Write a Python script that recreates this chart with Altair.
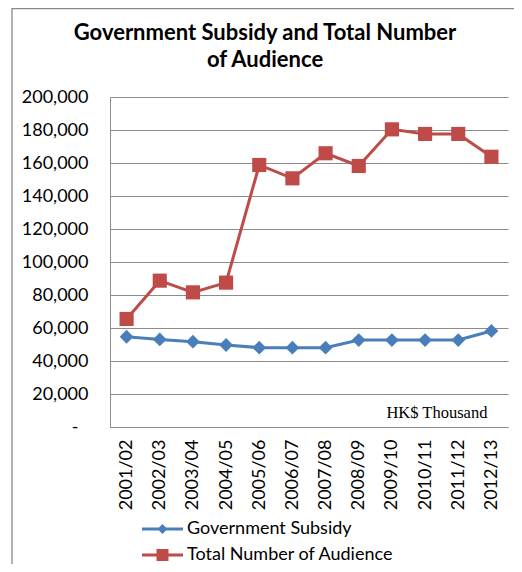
import altair as alt
import pandas as pd

years = ["2001/02", "2002/03", "2003/04", "2004/05", "2005/06", "2006/07",
         "2007/08", "2008/09", "2009/10", "2010/11", "2011/12", "2012/13"]
subsidy = [54700, 53100, 51700, 49700, 48100, 48100, 48100, 52700, 52700, 52700, 52700, 58200]
audience = [65500, 88700, 81600, 87500, 158800, 150700, 165900, 158200, 180400, 177600, 177600, 163800]
series = ["Government Subsidy", "Total Number of Audience"]
line_colors = ["#4A7EBB", "#BE4B48"]
y_ticks = [0, 20000, 40000, 60000, 80000, 100000, 120000, 140000, 160000, 180000, 200000]
title_text = "Government Subsidy and Total Number\nof Audience"
note_text = "HK$ Thousand"

rows = []
for yr, v in zip(years, subsidy):
    rows.append({"year": yr, "series": series[0], "value": v})
for yr, v in zip(years, audience):
    rows.append({"year": yr, "series": series[1], "value": v})
df = pd.DataFrame(rows)

FONT = "Lato"
GRID = "#8c8c8c"

x_axis = alt.Axis(labelAngle=-90, ticks=False, domainColor=GRID, labelPadding=12,
                  labelFont=FONT, labelFontSize=18, labelColor="#000000",
                  title=None, grid=False, labelOverlap=False)
y_axis = alt.Axis(values=y_ticks, grid=True, gridColor=GRID, domainColor=GRID,
                  ticks=False, labelFont=FONT, labelFontSize=18,
                  labelColor="#000000", title=None, labelOverlap=False,
                  labelPadding={"condition": {"test": "datum.value == 0", "value": 32}, "value": 22},
                  labelExpr="datum.value == 0 ? '-' : format(datum.value, ',')")
x_scale = alt.Scale(type="point", padding=0.5, domain=years)
y_scale = alt.Scale(domain=[0, 200000], nice=False)
x_enc = alt.X("year:O", sort=years, scale=x_scale, axis=x_axis)
y_enc = alt.Y("value:Q", scale=y_scale, axis=y_axis)
color_scale = alt.Scale(domain=series, range=line_colors)

base = alt.Chart(df)

frame = alt.Chart(pd.DataFrame({"a": [0]})).mark_rect(
    fill="transparent", stroke="#878787", strokeWidth=1.3
).encode(x=alt.value(-98), x2=alt.value(800), y=alt.value(-88.5), y2=alt.value(800))

title = alt.Chart(pd.DataFrame({"t": [title_text]})).mark_text(
    font=FONT, fontSize=22, fontWeight="bold", color="#000000", align="center",
    baseline="alphabetic", lineBreak="\n", lineHeight=27
).encode(x=alt.value(155), y=alt.value(-57), text="t:N")

lines = base.mark_line(strokeWidth=3).encode(
    x=x_enc, y=y_enc, color=alt.Color("series:N", scale=color_scale, legend=None))

pts_blue = base.transform_filter(alt.datum.series == series[0]).mark_point(
    shape="diamond", filled=True, size=190, opacity=1).encode(
    x=x_enc, y=y_enc, color=alt.Color("series:N", scale=color_scale, legend=None))
pts_red = base.transform_filter(alt.datum.series == series[1]).mark_point(
    shape="square", filled=True, size=200, opacity=1).encode(
    x=x_enc, y=y_enc, color=alt.Color("series:N", scale=color_scale, legend=None))

# legend glyphs: line segment with marker (unit = 10 px at symbolSize 400)
diamond_path = "M-1,-0.15L3.1,-0.15L3.1,0.15L-1,0.15ZM0.55,0L1.05,-0.5L1.55,0L1.05,0.5Z"
square_path = "M-1,-0.15L3.1,-0.15L3.1,0.15L-1,0.15ZM0.45,-0.6L1.65,-0.6L1.65,0.6L0.45,0.6Z"

leg = alt.Legend(title=None, orient="none", legendX=32, legendY=422,
                 direction="vertical", symbolSize=400, symbolStrokeWidth=0,
                 symbolOpacity=1, labelLimit=400,
                 labelFont=FONT, labelFontSize=18, labelColor="#000000",
                 labelOffset=25, rowPadding=7, padding=0)

legend_layer = base.mark_point(filled=True, size=0, opacity=1).encode(
    x=x_enc, y=y_enc,
    color=alt.Color("series:N", scale=color_scale, legend=leg),
    shape=alt.Shape("series:N", scale=alt.Scale(domain=series, range=[diamond_path, square_path]),
                    legend=leg))

note = alt.Chart(pd.DataFrame({"t": [note_text]})).mark_text(
    font="Liberation Serif", fontSize=16.5, align="right", baseline="middle", color="#000000", dx=-4
).encode(x=alt.XDatum("2012/13", type="ordinal", scale=x_scale, axis=x_axis),
         y=alt.YDatum(8500, type="quantitative", scale=y_scale, axis=y_axis),
         text="t:N")

chart = alt.layer(frame, title, lines, pts_blue, pts_red, legend_layer, note).resolve_legend(
    color="independent", shape="independent"
).properties(
    width=398, height=330,
    autosize=alt.AutoSizeParams(type="none"),
    padding={"left": 102, "top": 89, "right": 6, "bottom": 137},
    background="#ffffff",
).configure_view(stroke="transparent")

chart.save("out.html", embed_options={"renderer": "svg", "actions": False})
